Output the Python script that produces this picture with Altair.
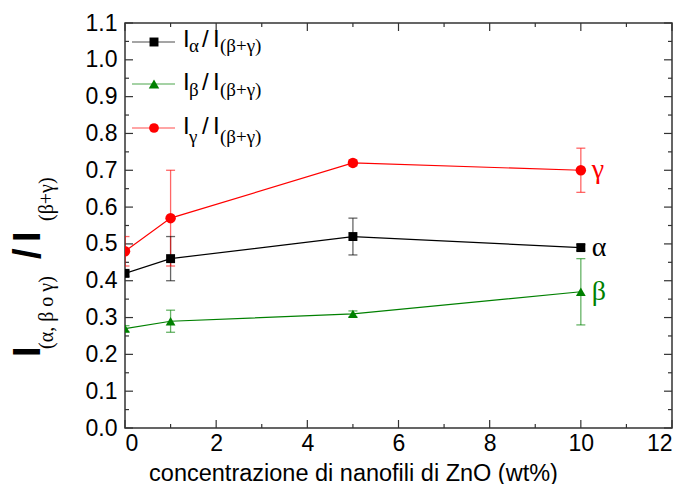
import altair as alt
import pandas as pd

# ---------------- data ----------------
conc = [0, 1, 5, 10]
alpha_vals = [0.42, 0.46, 0.52, 0.49]
alpha_err = [0.008, 0.06, 0.05, 0.008]
beta_vals = [0.27, 0.29, 0.31, 0.37]
beta_err = [0.008, 0.03, 0.008, 0.09]
gamma_vals = [0.48, 0.57, 0.72, 0.70]
gamma_err = [0.04, 0.13, 0.008, 0.06]

series_keys = ["alpha", "beta", "gamma"]
series_symbols = ["α", "β", "γ"]
series_colors = ["#000000", "#008000", "#ff0000"]
series_shapes = ["square", "triangle-up", "circle"]
series_sizes = [80, 110, 95]

x_major = [0, 2, 4, 6, 8, 10, 12]
x_minor = [1, 3, 5, 7, 9, 11]
y_major = [0.0, 0.1, 0.2, 0.3, 0.4, 0.5, 0.6, 0.7, 0.8, 0.9, 1.0, 1.1]
y_minor = [0.05, 0.15, 0.25, 0.35, 0.45, 0.55, 0.65, 0.75, 0.85, 0.95, 1.05]

x_title = "concentrazione di nanofili di ZnO (wt%)"

# ---------------- tables ----------------
rows = []
for key, sym, vals, errs in zip(series_keys, series_symbols,
                                [alpha_vals, beta_vals, gamma_vals],
                                [alpha_err, beta_err, gamma_err]):
    for c, v, e in zip(conc, vals, errs):
        rows.append({"series": key, "conc": c, "val": v,
                     "lo": v - e, "hi": v + e, "sym": sym})
df = pd.DataFrame(rows)
df_last = df[df["conc"] == conc[-1]]

W, H = 547, 405
SANS = "Liberation Sans, Arial, Helvetica, sans-serif"
SERIF = "Liberation Serif, Times New Roman, Times, DejaVu Serif, serif"

xscale = alt.Scale(domain=[0, 12], nice=False, zero=False)
yscale = alt.Scale(domain=[0, 1.1], nice=False, zero=False)
cscale = alt.Scale(domain=series_keys, range=series_colors)
sscale = alt.Scale(domain=series_keys, range=series_shapes)
zscale = alt.Scale(domain=series_keys, range=series_sizes)

color = alt.Color("series:N", scale=cscale, legend=None)

XAXIS = alt.Axis(
    values=x_major, ticks=False, domain=False, grid=False,
    labelFont=SANS, labelFontSize=23, labelColor="black", labelPadding=4,
    title=x_title, titleFont=SANS, titleFontSize=23.5, titleFontWeight="normal",
    titleColor="black", titleX=228, titleY=52, titleAlign="center",
    titleBaseline="alphabetic", titleAnchor="start")
YAXIS = alt.Axis(
    values=y_major, format=".1f", ticks=False, domain=False, grid=False,
    labelFont=SANS, labelFontSize=23, labelColor="black", labelPadding=8,
    title=None)


def X(field):
    return alt.X(field, scale=xscale, axis=XAXIS)


def Y(field):
    return alt.Y(field, scale=yscale, axis=YAXIS)


base = alt.Chart(df)

err_rule = base.mark_rule(strokeWidth=1.3, opacity=0.6, clip=True).encode(
    x=X("conc:Q"), y=Y("lo:Q"), y2="hi:Q", color=color)
cap_lo = base.mark_tick(orient="horizontal", size=9, thickness=1.3, opacity=0.6, clip=True).encode(
    x=X("conc:Q"), y=Y("lo:Q"), color=color)
cap_hi = base.mark_tick(orient="horizontal", size=9, thickness=1.3, opacity=0.6, clip=True).encode(
    x=X("conc:Q"), y=Y("hi:Q"), color=color)
lines = base.mark_line(strokeWidth=1.2, clip=True).encode(
    x=X("conc:Q"), y=Y("val:Q"), color=color, detail="series:N", order="conc:Q")
points = base.mark_point(filled=True, opacity=1, clip=True).encode(
    x=X("conc:Q"), y=Y("val:Q"), color=color,
    shape=alt.Shape("series:N", scale=sscale, legend=None),
    size=alt.Size("series:N", scale=zscale, legend=None))
sym_labels = alt.Chart(df_last).mark_text(
    align="left", baseline="middle", dx=11, font=SERIF, fontSize=28).encode(
    x=X("conc:Q"), y=Y("val:Q"), text="sym:N", color=color)


# ---------------- inward ticks on all four sides ----------------
def xticks(vals, length):
    d = alt.Chart(pd.DataFrame({"conc": vals}))
    bottom = d.mark_rule(color="#333", strokeWidth=1.2).encode(
        x=X("conc:Q"), y=alt.value(H), y2=alt.value(H - length))
    top = d.mark_rule(color="#333", strokeWidth=1.2).encode(
        x=X("conc:Q"), y=alt.value(0), y2=alt.value(length))
    return [bottom, top]


def yticks(vals, length):
    d = alt.Chart(pd.DataFrame({"val": vals}))
    left = d.mark_rule(color="#333", strokeWidth=1.2).encode(
        y=Y("val:Q"), x=alt.value(0), x2=alt.value(length))
    right = d.mark_rule(color="#333", strokeWidth=1.2).encode(
        y=Y("val:Q"), x=alt.value(W), x2=alt.value(W - length))
    return [left, right]


tick_layers = xticks(x_major, 8) + xticks(x_minor, 4) + yticks(y_major, 8) + yticks(y_minor, 4)


# ---------------- free text helper ----------------
def txt(s, x, y, size, font, color="black", angle=0, weight="normal"):
    return alt.Chart(alt.Data(values=[{}])).mark_text(
        text=s, font=font, fontSize=size, fontWeight=weight, color=color,
        angle=angle, align="left", baseline="alphabetic").encode(
        x=alt.value(x), y=alt.value(y))


# y axis title: I_(α, β o γ) / I_(β+γ), rotated
ytitle = [
    txt("I", -85, 334, 38, SANS, angle=270, weight="bold"),
    txt("(α,  β  o  γ)", -72, 326, 20, SERIF, angle=270),
    txt("/", -85, 236, 38, SANS, angle=270, weight="bold"),
    txt("I", -85, 219, 38, SANS, angle=270, weight="bold"),
    txt("(β+γ)", -72, 198, 20, SERIF, angle=270),
]

# manual legend
legend_layers = []
legend_rows = [(19, 24, 29), (61, 67, 73), (105, 111, 120)]
for (ly, by, sy), key, sym, col, shp, sz in zip(legend_rows, series_keys, series_symbols,
                                                 series_colors, series_shapes, series_sizes):
    legend_layers.append(alt.Chart(alt.Data(values=[{}])).mark_rule(
        strokeWidth=1.2, opacity=0.7).encode(
        x=alt.value(7), x2=alt.value(50), y=alt.value(ly), color=alt.value(col)))
    legend_layers.append(alt.Chart(alt.Data(values=[{}])).mark_point(
        filled=True, opacity=1, shape=shp, size=sz).encode(
        x=alt.value(29), y=alt.value(ly), color=alt.value(col)))
    legend_layers += [
        txt("I", 58, by, 24, SANS),
        txt(sym, 64, sy, 19, SERIF),
        txt("/", 77, by, 24, SANS),
        txt("I", 88, by, 24, SANS),
        txt("(β+γ)", 95, sy, 19, SERIF),
    ]

chart = alt.layer(
    *tick_layers, err_rule, cap_lo, cap_hi, lines, points, sym_labels,
    *ytitle, *legend_layers
).properties(
    width=W, height=H,
    autosize=alt.AutoSizeParams(type="none"),
    padding={"left": 125, "top": 23, "right": 13, "bottom": 56},
    background="white",
).configure_view(
    stroke="#333", strokeWidth=1.5
)

chart.save("out.html", embed_options={"renderer": "svg", "actions": False})
